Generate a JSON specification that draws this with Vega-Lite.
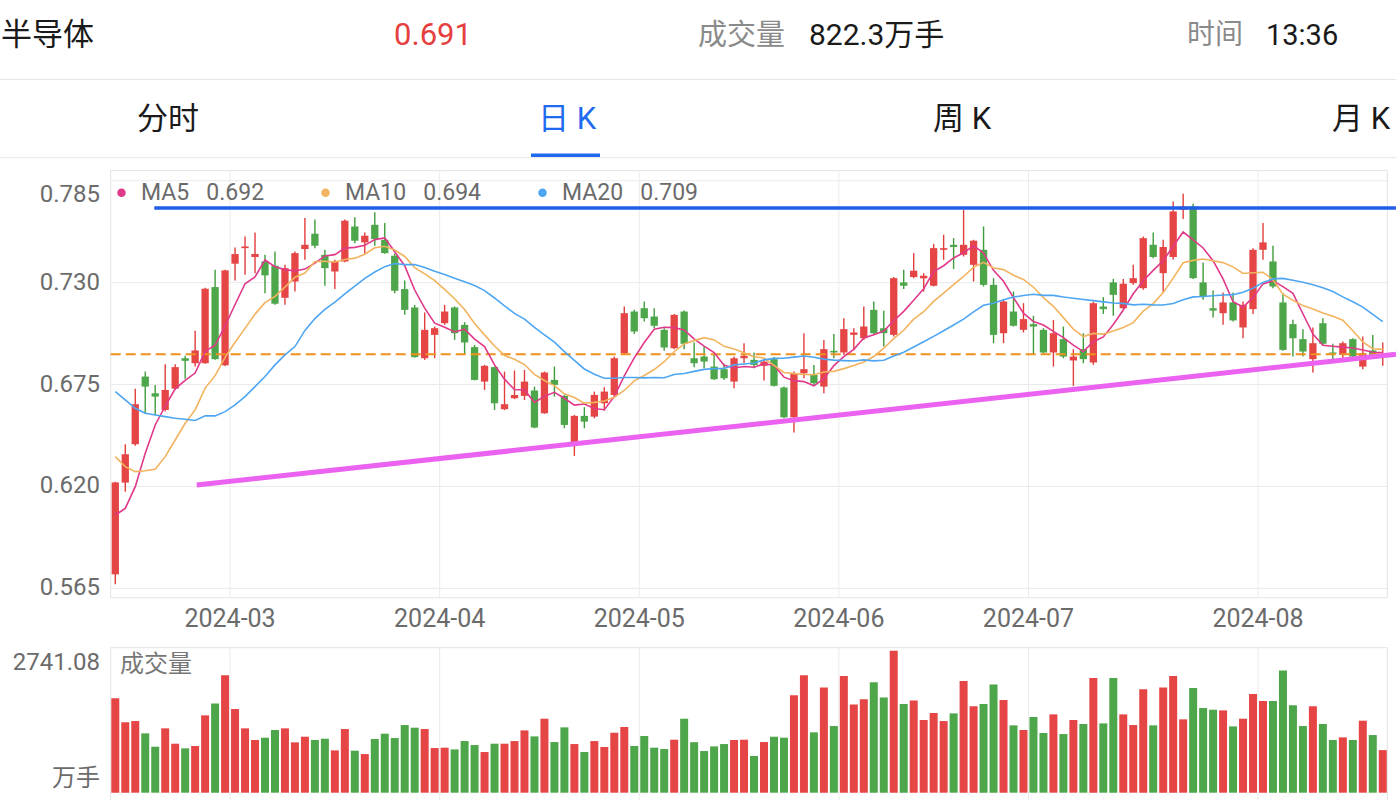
{
  "$schema": "https://vega.github.io/schema/vega-lite/v6.json",
  "width": 1396,
  "height": 800,
  "autosize": "none",
  "padding": 0,
  "background": "white",
  "config": {
    "view": {"stroke": null},
    "font": "Roboto, 'Noto Sans CJK SC', sans-serif",
    "scale": {"continuousPadding": 0}
  },
  "datasets": {
    "kline": [
      {"k":0,"o":0.5726,"h":0.6225,"l":0.5673,"c":0.6222,"v":1821,"MA5":0.6046,"MA10":0.6361,"MA20":0.6712},
      {"k":1,"o":0.6221,"h":0.6428,"l":0.6172,"c":0.6374,"v":1358,"MA5":0.6082,"MA10":0.6307,"MA20":0.6667},
      {"k":2,"o":0.6428,"h":0.6728,"l":0.642,"c":0.6644,"v":1383,"MA5":0.6199,"MA10":0.628,"MA20":0.6622},
      {"k":3,"o":0.6793,"h":0.682,"l":0.6592,"c":0.6739,"v":1145,"MA5":0.6379,"MA10":0.6285,"MA20":0.6595},
      {"k":4,"o":0.6703,"h":0.6748,"l":0.6586,"c":0.6685,"v":888,"MA5":0.6532,"MA10":0.6293,"MA20":0.6586},
      {"k":5,"o":0.6613,"h":0.686,"l":0.6604,"c":0.6721,"v":1242,"MA5":0.6633,"MA10":0.6361,"MA20":0.6577},
      {"k":6,"o":0.6728,"h":0.686,"l":0.6721,"c":0.6844,"v":946,"MA5":0.6727,"MA10":0.6451,"MA20":0.6568},
      {"k":7,"o":0.6892,"h":0.6905,"l":0.6781,"c":0.6878,"v":856,"MA5":0.6773,"MA10":0.6541,"MA20":0.6563},
      {"k":8,"o":0.6865,"h":0.704,"l":0.6847,"c":0.6934,"v":901,"MA5":0.6812,"MA10":0.6613,"MA20":0.6556},
      {"k":9,"o":0.6865,"h":0.7272,"l":0.6862,"c":0.7267,"v":1493,"MA5":0.6929,"MA10":0.6731,"MA20":0.6581},
      {"k":10,"o":0.7276,"h":0.7369,"l":0.6884,"c":0.6887,"v":1724,"MA5":0.6962,"MA10":0.6798,"MA20":0.6581},
      {"k":11,"o":0.6854,"h":0.737,"l":0.685,"c":0.7366,"v":2265,"MA5":0.7066,"MA10":0.6897,"MA20":0.6604},
      {"k":12,"o":0.7402,"h":0.749,"l":0.7312,"c":0.7454,"v":1615,"MA5":0.7182,"MA10":0.6978,"MA20":0.664},
      {"k":13,"o":0.7486,"h":0.7549,"l":0.7342,"c":0.7495,"v":1242,"MA5":0.7294,"MA10":0.7053,"MA20":0.6685},
      {"k":14,"o":0.7438,"h":0.7571,"l":0.7351,"c":0.7454,"v":1017,"MA5":0.7331,"MA10":0.713,"MA20":0.6739},
      {"k":15,"o":0.7414,"h":0.745,"l":0.7243,"c":0.7339,"v":1062,"MA5":0.7422,"MA10":0.7192,"MA20":0.6793},
      {"k":16,"o":0.7391,"h":0.7468,"l":0.718,"c":0.7186,"v":1210,"MA5":0.7386,"MA10":0.7226,"MA20":0.6856},
      {"k":17,"o":0.7218,"h":0.7396,"l":0.718,"c":0.7378,"v":1242,"MA5":0.737,"MA10":0.7276,"MA20":0.691},
      {"k":18,"o":0.7306,"h":0.7468,"l":0.7252,"c":0.7459,"v":972,"MA5":0.7363,"MA10":0.7329,"MA20":0.6955},
      {"k":19,"o":0.7481,"h":0.7648,"l":0.7423,"c":0.7504,"v":1081,"MA5":0.7373,"MA10":0.7352,"MA20":0.7042},
      {"k":20,"o":0.7564,"h":0.764,"l":0.7486,"c":0.7499,"v":1017,"MA5":0.7405,"MA10":0.7414,"MA20":0.7106},
      {"k":21,"o":0.745,"h":0.7477,"l":0.7283,"c":0.7378,"v":1042,"MA5":0.7444,"MA10":0.7415,"MA20":0.7156},
      {"k":22,"o":0.736,"h":0.7423,"l":0.7265,"c":0.7414,"v":817,"MA5":0.7451,"MA10":0.7411,"MA20":0.7195},
      {"k":23,"o":0.7414,"h":0.764,"l":0.741,"c":0.7634,"v":1229,"MA5":0.7486,"MA10":0.7425,"MA20":0.7239},
      {"k":24,"o":0.7603,"h":0.7652,"l":0.7513,"c":0.7526,"v":811,"MA5":0.749,"MA10":0.7432,"MA20":0.7281},
      {"k":25,"o":0.7517,"h":0.7571,"l":0.7456,"c":0.7553,"v":746,"MA5":0.7501,"MA10":0.7453,"MA20":0.7323},
      {"k":26,"o":0.7612,"h":0.7679,"l":0.7499,"c":0.7535,"v":1036,"MA5":0.7532,"MA10":0.7488,"MA20":0.7357},
      {"k":27,"o":0.7531,"h":0.7621,"l":0.7456,"c":0.7459,"v":1139,"MA5":0.7541,"MA10":0.7496,"MA20":0.7386},
      {"k":28,"o":0.7445,"h":0.7456,"l":0.7243,"c":0.7256,"v":1055,"MA5":0.7466,"MA10":0.7476,"MA20":0.7403},
      {"k":29,"o":0.7265,"h":0.7312,"l":0.7126,"c":0.7153,"v":1306,"MA5":0.7391,"MA10":0.7441,"MA20":0.7397},
      {"k":30,"o":0.7166,"h":0.718,"l":0.6895,"c":0.6898,"v":1255,"MA5":0.726,"MA10":0.7381,"MA20":0.7398},
      {"k":31,"o":0.6892,"h":0.7139,"l":0.6883,"c":0.7045,"v":1229,"MA5":0.7162,"MA10":0.7347,"MA20":0.7381},
      {"k":32,"o":0.7018,"h":0.7063,"l":0.6892,"c":0.7054,"v":862,"MA5":0.7081,"MA10":0.7311,"MA20":0.7361},
      {"k":33,"o":0.7081,"h":0.718,"l":0.7072,"c":0.7144,"v":869,"MA5":0.7059,"MA10":0.7263,"MA20":0.7344},
      {"k":34,"o":0.7166,"h":0.7171,"l":0.6991,"c":0.7027,"v":836,"MA5":0.7034,"MA10":0.7213,"MA20":0.7323},
      {"k":35,"o":0.7072,"h":0.7087,"l":0.691,"c":0.6977,"v":997,"MA5":0.7049,"MA10":0.7155,"MA20":0.7304},
      {"k":36,"o":0.6952,"h":0.6964,"l":0.6772,"c":0.6775,"v":920,"MA5":0.6995,"MA10":0.7079,"MA20":0.7284},
      {"k":37,"o":0.6766,"h":0.6856,"l":0.6721,"c":0.6851,"v":785,"MA5":0.6955,"MA10":0.7018,"MA20":0.7257},
      {"k":38,"o":0.6844,"h":0.6847,"l":0.6613,"c":0.6649,"v":946,"MA5":0.6856,"MA10":0.6958,"MA20":0.7217},
      {"k":39,"o":0.6617,"h":0.682,"l":0.6612,"c":0.6644,"v":946,"MA5":0.6779,"MA10":0.6907,"MA20":0.7174},
      {"k":40,"o":0.6676,"h":0.6826,"l":0.6671,"c":0.6694,"v":997,"MA5":0.6723,"MA10":0.6886,"MA20":0.7134},
      {"k":41,"o":0.6689,"h":0.6829,"l":0.6667,"c":0.6766,"v":1203,"MA5":0.6721,"MA10":0.6858,"MA20":0.7103},
      {"k":42,"o":0.6718,"h":0.6739,"l":0.6514,"c":0.6518,"v":1087,"MA5":0.6654,"MA10":0.6805,"MA20":0.7058},
      {"k":43,"o":0.6595,"h":0.682,"l":0.6592,"c":0.6815,"v":1428,"MA5":0.6687,"MA10":0.6772,"MA20":0.7018},
      {"k":44,"o":0.6775,"h":0.6847,"l":0.6685,"c":0.6748,"v":978,"MA5":0.6708,"MA10":0.6744,"MA20":0.6979},
      {"k":45,"o":0.6689,"h":0.6694,"l":0.6514,"c":0.6532,"v":1261,"MA5":0.6676,"MA10":0.67,"MA20":0.6928},
      {"k":46,"o":0.6437,"h":0.6586,"l":0.6365,"c":0.6581,"v":939,"MA5":0.6639,"MA10":0.668,"MA20":0.688},
      {"k":47,"o":0.6581,"h":0.6628,"l":0.6514,"c":0.655,"v":785,"MA5":0.6645,"MA10":0.665,"MA20":0.6834},
      {"k":48,"o":0.6577,"h":0.6712,"l":0.6568,"c":0.6694,"v":997,"MA5":0.6621,"MA10":0.6654,"MA20":0.6806},
      {"k":49,"o":0.6649,"h":0.6736,"l":0.6609,"c":0.6712,"v":882,"MA5":0.6614,"MA10":0.6661,"MA20":0.6784},
      {"k":50,"o":0.6694,"h":0.6901,"l":0.6685,"c":0.6892,"v":1158,"MA5":0.6686,"MA10":0.6681,"MA20":0.6784},
      {"k":51,"o":0.6919,"h":0.7171,"l":0.691,"c":0.7135,"v":1268,"MA5":0.6797,"MA10":0.6718,"MA20":0.6788},
      {"k":52,"o":0.7144,"h":0.7153,"l":0.7023,"c":0.7036,"v":901,"MA5":0.6894,"MA10":0.677,"MA20":0.6788},
      {"k":53,"o":0.7162,"h":0.7198,"l":0.709,"c":0.7108,"v":1094,"MA5":0.6977,"MA10":0.6799,"MA20":0.6786},
      {"k":54,"o":0.7117,"h":0.7162,"l":0.7054,"c":0.7067,"v":869,"MA5":0.7048,"MA10":0.6831,"MA20":0.6788},
      {"k":55,"o":0.7045,"h":0.7054,"l":0.6932,"c":0.695,"v":843,"MA5":0.7059,"MA10":0.6873,"MA20":0.6787},
      {"k":56,"o":0.6946,"h":0.7131,"l":0.694,"c":0.7126,"v":1023,"MA5":0.7057,"MA10":0.6927,"MA20":0.6804},
      {"k":57,"o":0.7144,"h":0.7149,"l":0.6941,"c":0.697,"v":1428,"MA5":0.7044,"MA10":0.6969,"MA20":0.681},
      {"k":58,"o":0.6892,"h":0.6977,"l":0.6844,"c":0.6865,"v":975,"MA5":0.6996,"MA10":0.6987,"MA20":0.6821},
      {"k":59,"o":0.6901,"h":0.6955,"l":0.6838,"c":0.6874,"v":804,"MA5":0.6957,"MA10":0.7003,"MA20":0.6832},
      {"k":60,"o":0.6847,"h":0.691,"l":0.6775,"c":0.6779,"v":894,"MA5":0.6923,"MA10":0.6991,"MA20":0.6836},
      {"k":61,"o":0.6833,"h":0.6862,"l":0.6775,"c":0.6784,"v":939,"MA5":0.6854,"MA10":0.6956,"MA20":0.6837},
      {"k":62,"o":0.6766,"h":0.6901,"l":0.673,"c":0.6892,"v":1017,"MA5":0.6839,"MA10":0.6942,"MA20":0.6856},
      {"k":63,"o":0.6892,"h":0.6973,"l":0.6865,"c":0.6905,"v":1023,"MA5":0.6847,"MA10":0.6922,"MA20":0.6861},
      {"k":64,"o":0.6883,"h":0.6923,"l":0.6838,"c":0.6856,"v":708,"MA5":0.6843,"MA10":0.69,"MA20":0.6866},
      {"k":65,"o":0.6851,"h":0.6887,"l":0.6772,"c":0.6874,"v":978,"MA5":0.6862,"MA10":0.6893,"MA20":0.6883},
      {"k":66,"o":0.6887,"h":0.6898,"l":0.674,"c":0.6743,"v":1081,"MA5":0.6854,"MA10":0.6854,"MA20":0.6891},
      {"k":67,"o":0.6734,"h":0.674,"l":0.6568,"c":0.6573,"v":1062,"MA5":0.679,"MA10":0.6815,"MA20":0.6892},
      {"k":68,"o":0.6573,"h":0.682,"l":0.6491,"c":0.6808,"v":1879,"MA5":0.6771,"MA10":0.6809,"MA20":0.6898},
      {"k":69,"o":0.6811,"h":0.7027,"l":0.6784,"c":0.6833,"v":2265,"MA5":0.6766,"MA10":0.6805,"MA20":0.6904},
      {"k":70,"o":0.6802,"h":0.6856,"l":0.6743,"c":0.6757,"v":1165,"MA5":0.6743,"MA10":0.6803,"MA20":0.6897},
      {"k":71,"o":0.6739,"h":0.6991,"l":0.6703,"c":0.6941,"v":2033,"MA5":0.6782,"MA10":0.6818,"MA20":0.6887},
      {"k":72,"o":0.6932,"h":0.7023,"l":0.6892,"c":0.6923,"v":1287,"MA5":0.6852,"MA10":0.6821,"MA20":0.6882},
      {"k":73,"o":0.6923,"h":0.7108,"l":0.691,"c":0.7049,"v":2252,"MA5":0.6901,"MA10":0.6836,"MA20":0.6879},
      {"k":74,"o":0.7018,"h":0.7054,"l":0.6937,"c":0.7031,"v":1705,"MA5":0.694,"MA10":0.6853,"MA20":0.6877},
      {"k":75,"o":0.7,"h":0.7171,"l":0.6991,"c":0.7063,"v":1802,"MA5":0.7001,"MA10":0.6872,"MA20":0.6883},
      {"k":76,"o":0.7153,"h":0.7198,"l":0.7023,"c":0.7027,"v":2130,"MA5":0.7019,"MA10":0.6901,"MA20":0.6878},
      {"k":77,"o":0.7054,"h":0.7148,"l":0.6955,"c":0.7027,"v":1840,"MA5":0.7039,"MA10":0.6946,"MA20":0.6881},
      {"k":78,"o":0.7018,"h":0.733,"l":0.7009,"c":0.7324,"v":2741.08,"MA5":0.7094,"MA10":0.6998,"MA20":0.6904},
      {"k":79,"o":0.7301,"h":0.7369,"l":0.7265,"c":0.7283,"v":1712,"MA5":0.7145,"MA10":0.7043,"MA20":0.6924},
      {"k":80,"o":0.733,"h":0.7459,"l":0.7324,"c":0.7364,"v":1782,"MA5":0.7205,"MA10":0.7103,"MA20":0.6953},
      {"k":81,"o":0.7323,"h":0.7351,"l":0.7252,"c":0.7337,"v":1403,"MA5":0.7267,"MA10":0.7143,"MA20":0.6981},
      {"k":82,"o":0.7283,"h":0.7509,"l":0.7279,"c":0.7486,"v":1538,"MA5":0.7359,"MA10":0.7199,"MA20":0.701},
      {"k":83,"o":0.7477,"h":0.7558,"l":0.7423,"c":0.7486,"v":1383,"MA5":0.7391,"MA10":0.7243,"MA20":0.704},
      {"k":84,"o":0.7504,"h":0.754,"l":0.7373,"c":0.7492,"v":1531,"MA5":0.7433,"MA10":0.7289,"MA20":0.7071},
      {"k":85,"o":0.745,"h":0.7693,"l":0.7441,"c":0.7504,"v":2156,"MA5":0.7461,"MA10":0.7333,"MA20":0.7103},
      {"k":86,"o":0.7396,"h":0.7531,"l":0.7306,"c":0.7526,"v":1667,"MA5":0.7499,"MA10":0.7383,"MA20":0.7142},
      {"k":87,"o":0.7477,"h":0.7603,"l":0.7279,"c":0.7288,"v":1712,"MA5":0.7459,"MA10":0.7409,"MA20":0.7178},
      {"k":88,"o":0.7288,"h":0.7324,"l":0.6973,"c":0.7018,"v":2091,"MA5":0.7366,"MA10":0.7379,"MA20":0.7189},
      {"k":89,"o":0.7027,"h":0.7207,"l":0.6973,"c":0.7198,"v":1789,"MA5":0.7307,"MA10":0.737,"MA20":0.7207},
      {"k":90,"o":0.7144,"h":0.7252,"l":0.7063,"c":0.7067,"v":1300,"MA5":0.7219,"MA10":0.734,"MA20":0.7222},
      {"k":91,"o":0.7045,"h":0.7189,"l":0.7031,"c":0.7103,"v":1210,"MA5":0.7135,"MA10":0.7317,"MA20":0.723},
      {"k":92,"o":0.7076,"h":0.7121,"l":0.6914,"c":0.7063,"v":1461,"MA5":0.709,"MA10":0.7275,"MA20":0.7237},
      {"k":93,"o":0.7045,"h":0.7054,"l":0.6916,"c":0.6923,"v":1152,"MA5":0.7071,"MA10":0.7219,"MA20":0.7231},
      {"k":94,"o":0.6923,"h":0.7099,"l":0.6847,"c":0.7027,"v":1512,"MA5":0.7037,"MA10":0.7172,"MA20":0.7231},
      {"k":95,"o":0.6995,"h":0.7063,"l":0.6892,"c":0.6901,"v":1132,"MA5":0.7003,"MA10":0.7111,"MA20":0.7222},
      {"k":96,"o":0.688,"h":0.6941,"l":0.6743,"c":0.6901,"v":1403,"MA5":0.6963,"MA10":0.7049,"MA20":0.7216},
      {"k":97,"o":0.6941,"h":0.7027,"l":0.6865,"c":0.6887,"v":1326,"MA5":0.6928,"MA10":0.7009,"MA20":0.7209},
      {"k":98,"o":0.6869,"h":0.7198,"l":0.6856,"c":0.7189,"v":2213,"MA5":0.6981,"MA10":0.7026,"MA20":0.7203},
      {"k":99,"o":0.7171,"h":0.7222,"l":0.7131,"c":0.7157,"v":1338,"MA5":0.7007,"MA10":0.7022,"MA20":0.7196},
      {"k":100,"o":0.7301,"h":0.7319,"l":0.7121,"c":0.7234,"v":2213,"MA5":0.7074,"MA10":0.7039,"MA20":0.719},
      {"k":101,"o":0.7162,"h":0.7319,"l":0.7157,"c":0.7294,"v":1512,"MA5":0.7152,"MA10":0.7058,"MA20":0.7188},
      {"k":102,"o":0.7297,"h":0.7396,"l":0.7288,"c":0.7324,"v":1306,"MA5":0.724,"MA10":0.7084,"MA20":0.718},
      {"k":103,"o":0.727,"h":0.7549,"l":0.7261,"c":0.754,"v":1995,"MA5":0.731,"MA10":0.7146,"MA20":0.7183},
      {"k":104,"o":0.7504,"h":0.7571,"l":0.7432,"c":0.7438,"v":1300,"MA5":0.7366,"MA10":0.7187,"MA20":0.718},
      {"k":105,"o":0.7351,"h":0.7531,"l":0.7247,"c":0.7492,"v":2033,"MA5":0.7418,"MA10":0.7246,"MA20":0.7179},
      {"k":106,"o":0.7438,"h":0.7738,"l":0.7423,"c":0.7684,"v":2252,"MA5":0.7496,"MA10":0.7324,"MA20":0.7187},
      {"k":107,"o":0.7693,"h":0.778,"l":0.7643,"c":0.7711,"v":1416,"MA5":0.7573,"MA10":0.7407,"MA20":0.7208},
      {"k":108,"o":0.7711,"h":0.7725,"l":0.7319,"c":0.7324,"v":2020,"MA5":0.753,"MA10":0.742,"MA20":0.7223},
      {"k":109,"o":0.7301,"h":0.7409,"l":0.7207,"c":0.7222,"v":1634,"MA5":0.7487,"MA10":0.7427,"MA20":0.7225},
      {"k":110,"o":0.7162,"h":0.7258,"l":0.7112,"c":0.7149,"v":1602,"MA5":0.7418,"MA10":0.7418,"MA20":0.7229},
      {"k":111,"o":0.7135,"h":0.7247,"l":0.7072,"c":0.7193,"v":1589,"MA5":0.732,"MA10":0.7408,"MA20":0.7233},
      {"k":112,"o":0.7193,"h":0.7247,"l":0.709,"c":0.7096,"v":1280,"MA5":0.7197,"MA10":0.7385,"MA20":0.7235},
      {"k":113,"o":0.7058,"h":0.7198,"l":0.7,"c":0.718,"v":1428,"MA5":0.7168,"MA10":0.7349,"MA20":0.7248},
      {"k":114,"o":0.7157,"h":0.7486,"l":0.7131,"c":0.7477,"v":1905,"MA5":0.7219,"MA10":0.7353,"MA20":0.727},
      {"k":115,"o":0.7477,"h":0.7621,"l":0.7423,"c":0.7517,"v":1769,"MA5":0.7293,"MA10":0.7356,"MA20":0.7301},
      {"k":116,"o":0.7414,"h":0.7499,"l":0.727,"c":0.7279,"v":1769,"MA5":0.731,"MA10":0.7315,"MA20":0.732},
      {"k":117,"o":0.7193,"h":0.7243,"l":0.6932,"c":0.6937,"v":2361,"MA5":0.7278,"MA10":0.7238,"MA20":0.7323},
      {"k":118,"o":0.7076,"h":0.7099,"l":0.6901,"c":0.7,"v":1686,"MA5":0.7242,"MA10":0.7205,"MA20":0.7313},
      {"k":119,"o":0.6995,"h":0.7049,"l":0.6901,"c":0.6928,"v":1287,"MA5":0.7132,"MA10":0.7176,"MA20":0.7302},
      {"k":120,"o":0.6887,"h":0.7058,"l":0.6815,"c":0.6973,"v":1667,"MA5":0.7023,"MA10":0.7158,"MA20":0.7288},
      {"k":121,"o":0.7081,"h":0.7108,"l":0.6959,"c":0.697,"v":1326,"MA5":0.6962,"MA10":0.7136,"MA20":0.7272},
      {"k":122,"o":0.6923,"h":0.697,"l":0.6887,"c":0.6916,"v":1017,"MA5":0.6957,"MA10":0.7118,"MA20":0.7252},
      {"k":123,"o":0.691,"h":0.6982,"l":0.6892,"c":0.6973,"v":1068,"MA5":0.6952,"MA10":0.7097,"MA20":0.7223},
      {"k":124,"o":0.6995,"h":0.7,"l":0.6898,"c":0.6901,"v":1017,"MA5":0.6947,"MA10":0.704,"MA20":0.7197},
      {"k":125,"o":0.6847,"h":0.7009,"l":0.6833,"c":0.6919,"v":1390,"MA5":0.6936,"MA10":0.698,"MA20":0.7168},
      {"k":126,"o":0.6934,"h":0.7018,"l":0.6901,"c":0.691,"v":1113,"MA5":0.6924,"MA10":0.6943,"MA20":0.7129},
      {"k":127,"o":0.69,"h":0.6977,"l":0.6851,"c":0.691,"v":822.3,"MA5":0.6923,"MA10":0.694,"MA20":0.7089}
    ],
    "ygrid": [{"p":0.565},{"p":0.62},{"p":0.675},{"p":0.73},{"p":0.785}],
    "months": [{"k":11.5,"m":"2024-03"},{"k":32.5,"m":"2024-04"},{"k":52.5,"m":"2024-05"},{"k":72.5,"m":"2024-06"},{"k":91.5,"m":"2024-07"},{"k":114.5,"m":"2024-08"}],
    "vlabels": [{"v":2741.08,"t":"2741.08"},{"v":0,"t":"万手"}],
    "trend": [
      {"name":"resistance","k1":3.91,"p1":0.77025,"k2":128.32,"p2":0.77025},
      {"name":"support","k1":8.16,"p1":0.6208,"k2":128.32,"p2":0.6913}
    ],
    "header": [
      {"id":"name","t":"半导体"},
      {"id":"price","t":"0.691"},
      {"id":"vollabel","t":"成交量"},
      {"id":"vol","t":"822.3万手"},
      {"id":"timelabel","t":"时间"},
      {"id":"time","t":"13:36"},
      {"id":"tab1","t":"分时"},
      {"id":"tab2","t":"日 K"},
      {"id":"tab3","t":"周 K"},
      {"id":"tab4","t":"月 K"}
    ]
  },
  "resolve": {"scale": {"y": "independent"}},
  "layer": [
    {
      "layer": [
        {
          "data": {"name": "ygrid"},
          "mark": {"type": "rule", "color": "#ebebeb", "strokeWidth": 1},
          "encoding": {
            "x": {"datum": -0.461, "type": "quantitative", "scale": {"domain": [-11.553, 128.327], "nice": false, "zero": false, "padding": 0}, "axis": null},
            "x2": {"datum": 127.455},
            "y": {"field": "p", "type": "quantitative", "scale": {"domain": [0.45086, 0.88247], "nice": false, "zero": false, "padding": 0}, "axis": null}
          }
        },
        {
          "data": {"name": "ygrid"},
          "transform": [{"filter": "datum.p < 0.78"}],
          "mark": {"type": "text", "align": "right", "baseline": "middle", "fontSize": 24, "color": "#6b6b6b"},
          "encoding": {
            "x": {"datum": -1.533, "type": "quantitative", "scale": {"domain": [-11.553, 128.327], "nice": false, "zero": false, "padding": 0}, "axis": null},
            "y": {"field": "p", "type": "quantitative", "scale": {"domain": [0.45086, 0.88247], "nice": false, "zero": false, "padding": 0}, "axis": null},
            "text": {"field": "p", "type": "quantitative", "format": ".3f"}
          }
        },
        {
          "data": {"name": "ygrid"},
          "transform": [{"filter": "datum.p > 0.78"}],
          "mark": {"type": "text", "align": "right", "baseline": "middle", "fontSize": 24, "color": "#6b6b6b", "dy": 14},
          "encoding": {
            "x": {"datum": -1.533, "type": "quantitative", "scale": {"domain": [-11.553, 128.327], "nice": false, "zero": false, "padding": 0}, "axis": null},
            "y": {"field": "p", "type": "quantitative", "scale": {"domain": [0.45086, 0.88247], "nice": false, "zero": false, "padding": 0}, "axis": null},
            "text": {"field": "p", "type": "quantitative", "format": ".3f"}
          }
        },
        {
          "data": {"name": "months"},
          "mark": {"type": "rule", "color": "#ebebeb", "strokeWidth": 1},
          "encoding": {
            "x": {"field": "k", "type": "quantitative", "scale": {"domain": [-11.553, 128.327], "nice": false, "zero": false, "padding": 0}, "axis": null},
            "y": {"datum": 0.55996, "type": "quantitative", "scale": {"domain": [0.45086, 0.88247], "nice": false, "zero": false, "padding": 0}, "axis": null},
            "y2": {"datum": 0.7904}
          }
        },
        {
          "data": {"name": "months"},
          "mark": {"type": "text", "align": "center", "baseline": "middle", "fontSize": 25, "color": "#6b6b6b"},
          "encoding": {
            "x": {"field": "k", "type": "quantitative", "scale": {"domain": [-11.553, 128.327], "nice": false, "zero": false, "padding": 0}, "axis": null},
            "y": {"datum": 0.5485, "type": "quantitative", "scale": {"domain": [0.45086, 0.88247], "nice": false, "zero": false, "padding": 0}, "axis": null},
            "text": {"field": "m"}
          }
        },
        {
          "data": {"values": [{}]},
          "mark": {"type": "rect", "filled": false, "stroke": "#e3e3e3", "strokeWidth": 1},
          "encoding": {
            "x": {"datum": -0.461, "type": "quantitative", "scale": {"domain": [-11.553, 128.327], "nice": false, "zero": false, "padding": 0}, "axis": null},
            "x2": {"datum": 127.455},
            "y": {"datum": 0.55996, "type": "quantitative", "scale": {"domain": [0.45086, 0.88247], "nice": false, "zero": false, "padding": 0}, "axis": null},
            "y2": {"datum": 0.7904}
          }
        },
        {
          "data": {"name": "kline"},
          "mark": {"type": "rule", "strokeWidth": 1.4},
          "encoding": {
            "x": {"field": "k", "type": "quantitative", "scale": {"domain": [-11.553, 128.327], "nice": false, "zero": false, "padding": 0}, "axis": null},
            "y": {"field": "l", "type": "quantitative", "scale": {"domain": [0.45086, 0.88247], "nice": false, "zero": false, "padding": 0}, "axis": null},
            "y2": {"field": "h"},
            "color": {"condition": {"test": "datum.c >= datum.o", "value": "#e23d3d"}, "value": "#3f9c3c"}
          }
        },
        {
          "data": {"name": "kline"},
          "mark": {"type": "bar", "width": 7.3},
          "encoding": {
            "x": {"field": "k", "type": "quantitative", "scale": {"domain": [-11.553, 128.327], "nice": false, "zero": false, "padding": 0}, "axis": null},
            "y": {"field": "o", "type": "quantitative", "scale": {"domain": [0.45086, 0.88247], "nice": false, "zero": false, "padding": 0}, "axis": null},
            "y2": {"field": "c"},
            "color": {"condition": {"test": "datum.c >= datum.o", "value": "#e54545"}, "value": "#4ea64a"}
          }
        },
        {
          "data": {"values": [{}]},
          "mark": {"type": "rule", "color": "#f0901e", "strokeWidth": 2, "strokeDash": [10, 5]},
          "encoding": {
            "x": {"datum": -0.461, "type": "quantitative", "scale": {"domain": [-11.553, 128.327], "nice": false, "zero": false, "padding": 0}, "axis": null},
            "x2": {"datum": 127.1},
            "y": {"datum": 0.6914, "type": "quantitative", "scale": {"domain": [0.45086, 0.88247], "nice": false, "zero": false, "padding": 0}, "axis": null}
          }
        },
        {
          "data": {"name": "kline"},
          "transform": [{"fold": ["MA5", "MA10", "MA20"], "as": ["ma", "val"]}],
          "mark": {"type": "line", "strokeWidth": 1.6},
          "encoding": {
            "x": {"field": "k", "type": "quantitative", "scale": {"domain": [-11.553, 128.327], "nice": false, "zero": false, "padding": 0}, "axis": null},
            "y": {"field": "val", "type": "quantitative", "scale": {"domain": [0.45086, 0.88247], "nice": false, "zero": false, "padding": 0}, "axis": null},
            "color": {"field": "ma", "type": "nominal",
              "scale": {"domain": ["MA5", "MA10", "MA20"], "range": ["#e0398a", "#f2b35f", "#4ea6f2"]},
              "legend": {"orient": "none", "legendX": 110, "legendY": 181, "direction": "horizontal", "title": null, "symbolType": "circle", "symbolSize": 16, "symbolStrokeWidth": 4.5, "labelFontSize": 23, "labelColor": "#6b6b6b", "labelOffset": 8, "columnPadding": 49, "padding": 0,
                "labelExpr": "datum.label == 'MA5' ? 'MA5\u00a0\u00a0\u00a00.692' : datum.label == 'MA10' ? 'MA10\u00a0\u00a0\u00a00.694' : 'MA20\u00a0\u00a0\u00a00.709'"}}
          }
        },
        {
          "data": {"name": "trend"},
          "mark": {"type": "rule", "strokeCap": "butt"},
          "encoding": {
            "x": {"field": "k1", "type": "quantitative", "scale": {"domain": [-11.553, 128.327], "nice": false, "zero": false, "padding": 0}, "axis": null},
            "x2": {"field": "k2"},
            "y": {"field": "p1", "type": "quantitative", "scale": {"domain": [0.45086, 0.88247], "nice": false, "zero": false, "padding": 0}, "axis": null},
            "y2": {"field": "p2"},
            "color": {"condition": {"test": "datum.name == 'resistance'", "value": "#1f5ee8"}, "value": "#ea62ef"},
            "strokeWidth": {"condition": {"test": "datum.name == 'resistance'", "value": 3.6}, "value": 5}
          }
        }
      ]
    },
    {
      "layer": [
        {
          "data": {"name": "months"},
          "mark": {"type": "rule", "color": "#ebebeb", "strokeWidth": 1},
          "encoding": {
            "x": {"field": "k", "type": "quantitative", "scale": {"domain": [-11.553, 128.327], "nice": false, "zero": false, "padding": 0}, "axis": null},
            "y": {"datum": -500, "type": "quantitative", "scale": {"domain": [-140.9, 15302], "nice": false, "zero": false, "padding": 0}, "axis": null},
            "y2": {"datum": 2799}
          }
        },
        {
          "data": {"values": [{}]},
          "mark": {"type": "rect", "filled": false, "stroke": "#e3e3e3", "strokeWidth": 1},
          "encoding": {
            "x": {"datum": -0.461, "type": "quantitative", "scale": {"domain": [-11.553, 128.327], "nice": false, "zero": false, "padding": 0}, "axis": null},
            "x2": {"datum": 127.455},
            "y": {"datum": -500, "type": "quantitative", "scale": {"domain": [-140.9, 15302], "nice": false, "zero": false, "padding": 0}, "axis": null},
            "y2": {"datum": 2799}
          }
        },
        {
          "data": {"name": "kline"},
          "mark": {"type": "bar", "width": 8},
          "encoding": {
            "x": {"field": "k", "type": "quantitative", "scale": {"domain": [-11.553, 128.327], "nice": false, "zero": false, "padding": 0}, "axis": null},
            "y": {"field": "v", "type": "quantitative", "scale": {"domain": [-140.9, 15302], "nice": false, "zero": false, "padding": 0}, "axis": null},
            "y2": {"datum": 0},
            "color": {"condition": {"test": "datum.c >= datum.o", "value": "#e54545"}, "value": "#4ea64a"}
          }
        },
        {
          "data": {"name": "vlabels"},
          "transform": [{"filter": "datum.v > 1"}],
          "mark": {"type": "text", "align": "right", "baseline": "middle", "fontSize": 24, "color": "#6b6b6b", "dy": 12},
          "encoding": {
            "x": {"datum": -1.533, "type": "quantitative", "scale": {"domain": [-11.553, 128.327], "nice": false, "zero": false, "padding": 0}, "axis": null},
            "y": {"field": "v", "type": "quantitative", "scale": {"domain": [-140.9, 15302], "nice": false, "zero": false, "padding": 0}, "axis": null},
            "text": {"field": "t"}
          }
        },
        {
          "data": {"name": "vlabels"},
          "transform": [{"filter": "datum.v < 1"}],
          "mark": {"type": "text", "align": "right", "baseline": "middle", "fontSize": 24, "color": "#6b6b6b", "dy": -14},
          "encoding": {
            "x": {"datum": -1.533, "type": "quantitative", "scale": {"domain": [-11.553, 128.327], "nice": false, "zero": false, "padding": 0}, "axis": null},
            "y": {"field": "v", "type": "quantitative", "scale": {"domain": [-140.9, 15302], "nice": false, "zero": false, "padding": 0}, "axis": null},
            "text": {"field": "t"}
          }
        },
        {
          "data": {"values": [{"t": "成交量"}]},
          "mark": {"type": "text", "align": "left", "baseline": "middle", "fontSize": 24, "color": "#777777"},
          "encoding": {
            "x": {"datum": 0.47, "type": "quantitative", "scale": {"domain": [-11.553, 128.327], "nice": false, "zero": false, "padding": 0}, "axis": null},
            "y": {"datum": 2465, "type": "quantitative", "scale": {"domain": [-140.9, 15302], "nice": false, "zero": false, "padding": 0}, "axis": null},
            "text": {"field": "t"}
          }
        }
      ]
    },
    {
      "data": {"values": [{}]},
      "mark": {"type": "rule", "color": "#e6e6e6", "strokeWidth": 1},
      "encoding": {"x": {"value": 0}, "x2": {"value": 1396}, "y": {"value": 79.5}}
    },
    {
      "data": {"values": [{}]},
      "mark": {"type": "rule", "color": "#e6e6e6", "strokeWidth": 1},
      "encoding": {"x": {"value": 0}, "x2": {"value": 1396}, "y": {"value": 157.7}}
    },
    {
      "data": {"values": [{}]},
      "mark": {"type": "rule", "color": "#1f6af0", "strokeWidth": 3.5},
      "encoding": {"x": {"value": 531}, "x2": {"value": 600}, "y": {"value": 155.3}}
    },
    {
      "data": {"name": "header"}, "transform": [{"filter": "datum.id == 'name'"}],
      "mark": {"type": "text", "x": 1, "y": 36, "align": "left", "baseline": "middle", "fontSize": 31, "color": "#1a1a1a"},
      "encoding": {"text": {"field": "t"}}
    },
    {
      "data": {"name": "header"}, "transform": [{"filter": "datum.id == 'price'"}],
      "mark": {"type": "text", "x": 433, "y": 36, "align": "center", "baseline": "middle", "fontSize": 31, "color": "#e53f3f"},
      "encoding": {"text": {"field": "t"}}
    },
    {
      "data": {"name": "header"}, "transform": [{"filter": "datum.id == 'vollabel'"}],
      "mark": {"type": "text", "x": 698, "y": 36, "align": "left", "baseline": "middle", "fontSize": 29, "color": "#8a8a8a"},
      "encoding": {"text": {"field": "t"}}
    },
    {
      "data": {"name": "header"}, "transform": [{"filter": "datum.id == 'vol'"}],
      "mark": {"type": "text", "x": 809, "y": 36, "align": "left", "baseline": "middle", "fontSize": 30, "color": "#1a1a1a"},
      "encoding": {"text": {"field": "t"}}
    },
    {
      "data": {"name": "header"}, "transform": [{"filter": "datum.id == 'timelabel'"}],
      "mark": {"type": "text", "x": 1187, "y": 36, "align": "left", "baseline": "middle", "fontSize": 28, "color": "#8a8a8a"},
      "encoding": {"text": {"field": "t"}}
    },
    {
      "data": {"name": "header"}, "transform": [{"filter": "datum.id == 'time'"}],
      "mark": {"type": "text", "x": 1266, "y": 36, "align": "left", "baseline": "middle", "fontSize": 29, "color": "#1a1a1a"},
      "encoding": {"text": {"field": "t"}}
    },
    {
      "data": {"name": "header"}, "transform": [{"filter": "datum.id == 'tab1'"}],
      "mark": {"type": "text", "x": 168, "y": 120, "align": "center", "baseline": "middle", "fontSize": 31, "color": "#1a1a1a"},
      "encoding": {"text": {"field": "t"}}
    },
    {
      "data": {"name": "header"}, "transform": [{"filter": "datum.id == 'tab2'"}],
      "mark": {"type": "text", "x": 567, "y": 120, "align": "center", "baseline": "middle", "fontSize": 31, "color": "#1f6af0"},
      "encoding": {"text": {"field": "t"}}
    },
    {
      "data": {"name": "header"}, "transform": [{"filter": "datum.id == 'tab3'"}],
      "mark": {"type": "text", "x": 962, "y": 120, "align": "center", "baseline": "middle", "fontSize": 31, "color": "#1a1a1a"},
      "encoding": {"text": {"field": "t"}}
    },
    {
      "data": {"name": "header"}, "transform": [{"filter": "datum.id == 'tab4'"}],
      "mark": {"type": "text", "x": 1361, "y": 120, "align": "center", "baseline": "middle", "fontSize": 31, "color": "#1a1a1a"},
      "encoding": {"text": {"field": "t"}}
    }
  ]
}
